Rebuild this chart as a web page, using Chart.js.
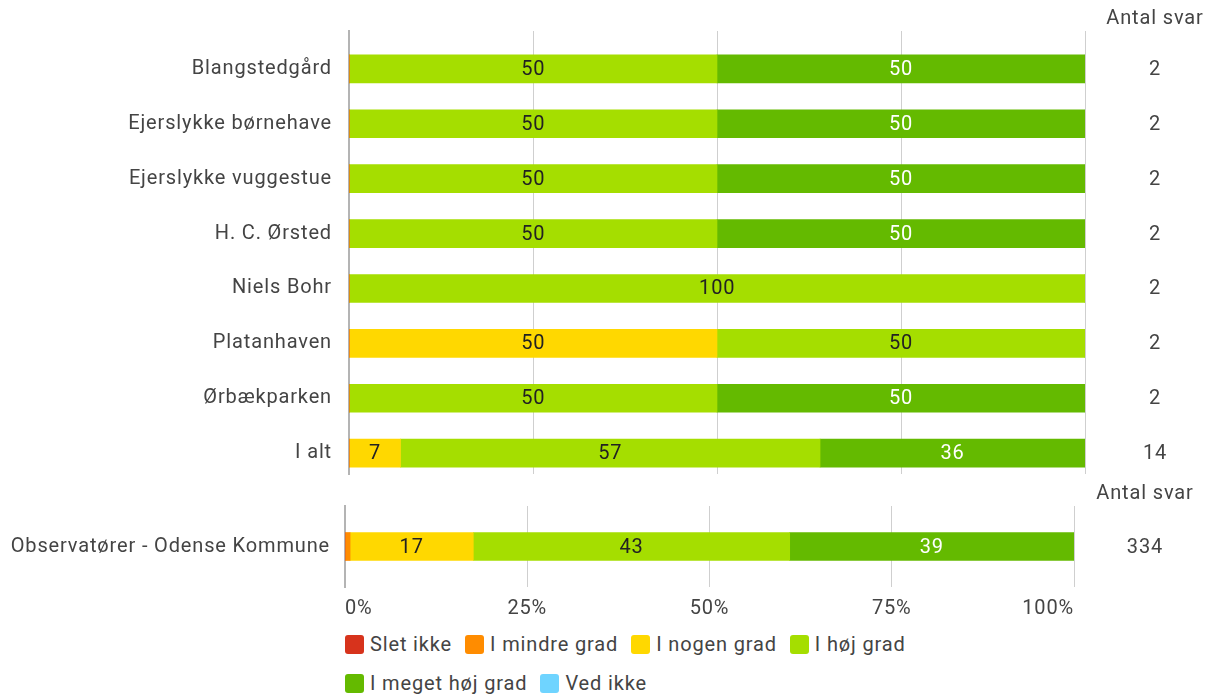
<!DOCTYPE html>
<html>
<head>
<meta charset="utf-8">
<script src="https://cdn.jsdelivr.net/npm/chart.js@4"></script>
<style>
  body { margin: 0; background: #fff; font-family: Roboto, sans-serif; }
  #wrap { position: relative; width: 1212px; height: 696px; }
  #topBox { position: absolute; left: 0; top: 0; width: 1212px; height: 478px; }
  #botBox { position: absolute; left: 0; top: 478px; width: 1212px; height: 142px; }
  #legend { position: absolute; left: 345px; top: 634px; width: 590px; display: flex; flex-wrap: wrap; }
  .item { display: flex; align-items: center; margin-right: 13px; margin-bottom: 19px; font-size: 20px; letter-spacing: 0.85px; color: #444; height: 20px; }
  .box { width: 19px; height: 19px; border-radius: 3px; margin-right: 6px; }
</style>
</head>
<body>
<div id="wrap">
  <div id="topBox"><canvas id="topChart"></canvas></div>
  <div id="botBox"><canvas id="botChart"></canvas></div>
  <div id="legend"></div>
</div>
<script>
// categories
const units = ['Blangstedgård', 'Ejerslykke børnehave', 'Ejerslykke vuggestue', 'H. C. Ørsted',
  'Niels Bohr', 'Platanhaven', 'Ørbækparken', 'I alt'];
const unitCounts = [2, 2, 2, 2, 2, 2, 2, 14];
const refName = ['Observatører - Odense Kommune'];
const refCounts = [334];

const seriesNames = ['Slet ikke', 'I mindre grad', 'I nogen grad', 'I høj grad', 'I meget høj grad', 'Ved ikke'];
const seriesColors = ['#d7331c', '#ff8c00', '#ffd800', '#a5de00', '#64ba00', '#6fd4ff'];

// percentages per unit
const sletIkke    = [0, 0, 0, 0, 0, 0, 0, 0];
const mindreGrad  = [0, 0, 0, 0, 0, 0, 0, 0];
const nogenGrad   = [0, 0, 0, 0, 0, 50, 0, 7];
const hojGrad     = [50, 50, 50, 50, 100, 50, 50, 57];
const megetHoj    = [50, 50, 50, 50, 0, 0, 50, 36];
const vedIkke     = [0, 0, 0, 0, 0, 0, 0, 0];

// Odense Kommune reference
const refValues = [[0], [0.7], [16.9], [43.4], [39.0], [0]];

const xTicks = [0, 25, 50, 75, 100];

const FONT = 'Roboto';
const TEXT = '#444';
const SPACING = '0.85px';

// slightly wider text, like the original
const spacing = {
  id: 'spacing',
  beforeLayout(chart) { chart.ctx.letterSpacing = SPACING; },
  beforeDraw(chart) { chart.ctx.letterSpacing = SPACING; }
};

// numbers inside the bars
const barLabels = {
  id: 'barLabels',
  afterDatasetsDraw(chart) {
    const ctx = chart.ctx;
    ctx.save();
    ctx.font = '20px ' + FONT;
    ctx.textAlign = 'center';
    ctx.textBaseline = 'middle';
    chart.data.datasets.forEach((ds, i) => {
      const meta = chart.getDatasetMeta(i);
      meta.data.forEach((bar, j) => {
        const v = ds.data[j];
        if (!v || v < 3) return;
        const p = bar.getCenterPoint();
        ctx.fillStyle = i === 4 ? '#fff' : '#222';
        ctx.fillText(Math.round(v), p.x, p.y + 1);
      });
    });
    ctx.restore();
  }
};

// "Antal svar" column
const countColumn = {
  id: 'countColumn',
  afterDraw(chart, args, opts) {
    const ctx = chart.ctx;
    const y = chart.scales.y;
    ctx.save();
    ctx.font = '20px ' + FONT;
    ctx.fillStyle = TEXT;
    ctx.textAlign = 'center';
    ctx.textBaseline = 'middle';
    ctx.fillText('Antal svar', opts.x, opts.headY);
    opts.counts.forEach((c, i) => {
      ctx.fillText(c, opts.x, y.getPixelForValue(i) + 1);
    });
    ctx.restore();
  }
};

function makeDatasets(cols) {
  return seriesNames.map((name, i) => ({
    label: name,
    data: cols[i],
    backgroundColor: seriesColors[i],
    borderWidth: 0,
    barThickness: 28,
    stack: 's'
  }));
}

Chart.defaults.font.family = FONT;
Chart.defaults.color = TEXT;
Chart.defaults.animation = false;

new Chart(document.getElementById('topChart'), {
  type: 'bar',
  data: {
    labels: units.map((u, i) => i),
    datasets: makeDatasets([sletIkke, mindreGrad, nogenGrad, hojGrad, megetHoj, vedIkke])
  },
  options: {
    indexAxis: 'y',
    responsive: true,
    maintainAspectRatio: false,
    layout: { padding: { top: 31, bottom: 4, right: 127, left: 0 } },
    plugins: {
      legend: { display: false },
      tooltip: { enabled: false },
      countColumn: { x: 1155, headY: 19, counts: unitCounts }
    },
    scales: {
      x: {
        type: 'linear', min: 0, max: 100, stacked: true,
        afterBuildTicks(s) { s.ticks = xTicks.map(v => ({ value: v })); },
        ticks: { display: false },
        grid: { color: '#cfcfcf', lineWidth: 1, drawTicks: false },
        border: { display: false },
        afterFit(s) { s.height = 0; }
      },
      y: {
        type: 'linear', reverse: true, offset: false, min: -0.69, max: 7.38,
        afterBuildTicks(s) { s.ticks = units.map((u, i) => ({ value: i })); },
        ticks: { autoSkip: false, padding: 17, color: TEXT, font: { size: 20 },
          callback: v => units[v] },
        grid: { display: false, drawTicks: false },
        border: { display: true, color: '#b4b4b4', width: 2 },
        afterFit(s) { s.width = 349; s.paddingTop = 0; s.paddingBottom = 0; }
      }
    }
  },
  plugins: [spacing, barLabels, countColumn]
});

new Chart(document.getElementById('botChart'), {
  type: 'bar',
  data: {
    labels: refName,
    datasets: makeDatasets(refValues)
  },
  options: {
    indexAxis: 'y',
    responsive: true,
    maintainAspectRatio: false,
    layout: { padding: { top: 28, bottom: 0, right: 138, left: 0 } },
    plugins: {
      legend: { display: false },
      tooltip: { enabled: false },
      countColumn: { x: 1145, headY: 16, counts: refCounts }
    },
    scales: {
      x: {
        type: 'linear', min: 0, max: 100, stacked: true,
        afterBuildTicks(s) { s.ticks = xTicks.map(v => ({ value: v })); },
        ticks: { padding: 10, align: 'inner', color: TEXT, font: { size: 20 },
          callback: v => v + '%' },
        grid: { color: '#cfcfcf', lineWidth: 1, drawTicks: false },
        border: { display: false },
        afterFit(s) { s.height = 33; }
      },
      y: {
        type: 'category', offset: true,
        ticks: { padding: 15, color: TEXT, font: { size: 20 } },
        grid: { display: false, drawTicks: false },
        border: { display: true, color: '#b4b4b4', width: 2 },
        afterFit(s) { s.width = 345; }
      }
    }
  },
  plugins: [spacing, barLabels, countColumn]
});

// legend
const legend = document.getElementById('legend');
seriesNames.forEach((name, i) => {
  const item = document.createElement('div');
  item.className = 'item';
  const box = document.createElement('span');
  box.className = 'box';
  box.style.background = seriesColors[i];
  const txt = document.createElement('span');
  txt.textContent = name;
  item.appendChild(box);
  item.appendChild(txt);
  legend.appendChild(item);
});
</script>
</body>
</html>
